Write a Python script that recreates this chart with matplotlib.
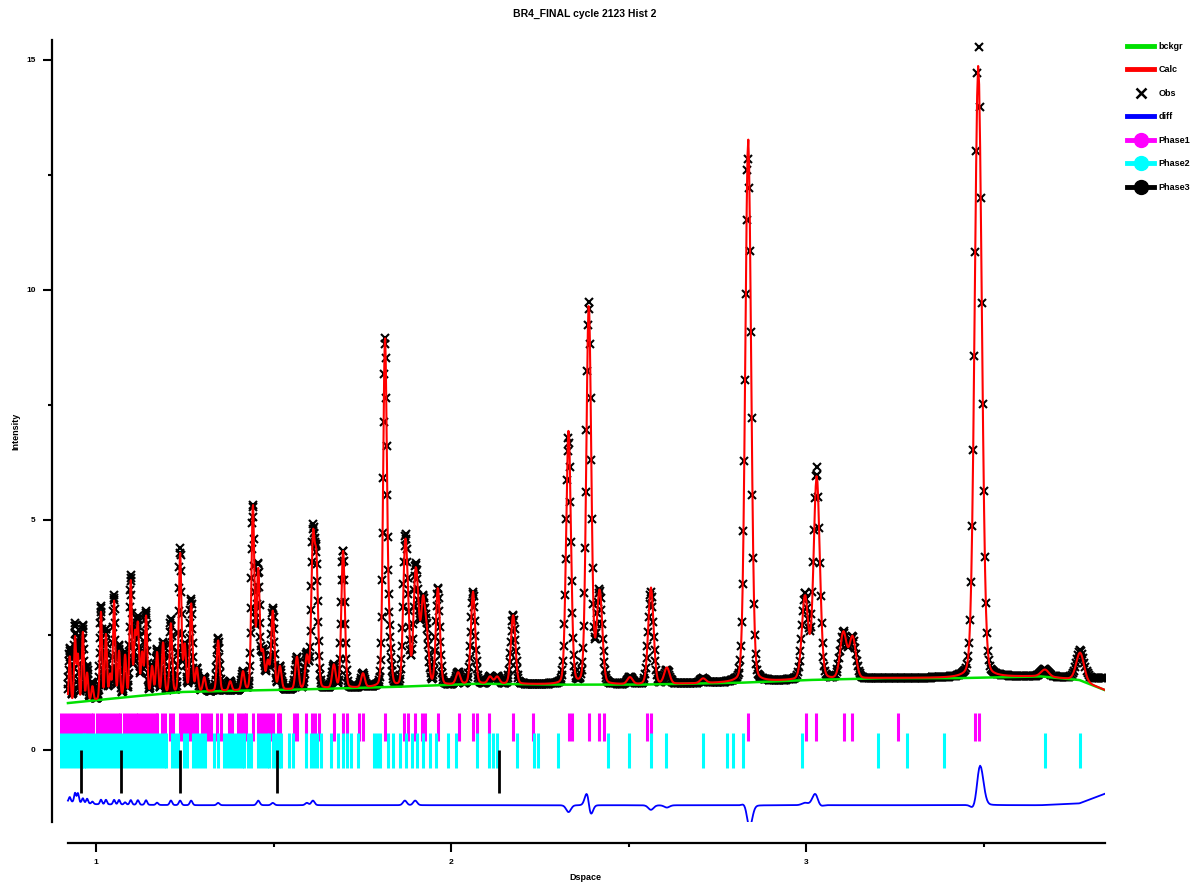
import numpy as np
import matplotlib
matplotlib.use("Agg")
import matplotlib.pyplot as plt
from matplotlib.lines import Line2D
from matplotlib.ticker import MultipleLocator

plt.rcParams['font.family'] = ['Liberation Sans', 'DejaVu Sans']
plt.rcParams['font.weight'] = 'bold'

title = "BR4_FINAL cycle 2123 Hist 2"
x_label = "Dspace"
y_label = "Intensity"
legend_labels = ["bckgr", "Calc", "Obs", "diff", "Phase1", "Phase2", "Phase3"]

# data range (d-spacing)
d_start, d_end = 0.921, 3.842
d_step_rel = 0.0008          # relative TOF step (delta d / d)
fwhm_rel = 0.0068            # peak FWHM / d

# background nodes (d, intensity)
bkg_d = [0.921, 1.000, 1.100, 1.240, 1.400, 1.550, 1.840, 2.070, 2.300,
         2.530, 2.810, 3.000, 3.210, 3.420, 3.660, 3.770, 3.842]
bkg_calc = [1.02, 1.08, 1.16, 1.26, 1.29, 1.31, 1.37, 1.44, 1.42,
            1.42, 1.46, 1.52, 1.56, 1.56, 1.60, 1.52, 1.30]
bkg_obs = [1.10, 1.10, 1.17, 1.26, 1.29, 1.31, 1.37, 1.44, 1.42,
           1.42, 1.46, 1.52, 1.56, 1.56, 1.60, 1.56, 1.55]

# peaks: position, calculated amplitude, observed amplitude
peak_d = [0.926, 0.941, 0.949, 0.963, 0.975, 0.990, 1.014, 1.028, 1.040, 1.051,
          1.065, 1.082, 1.098, 1.110, 1.118, 1.130, 1.141, 1.158, 1.172, 1.189,
          1.211, 1.237, 1.250, 1.268, 1.284, 1.305, 1.344, 1.378, 1.414, 1.442,
          1.457, 1.470, 1.484, 1.498, 1.518, 1.566, 1.594, 1.611, 1.621, 1.670,
          1.696, 1.752, 1.814, 1.826, 1.870, 1.878, 1.899, 1.907, 1.921, 1.932,
          1.963, 2.020, 2.062, 2.110, 2.130, 2.175, 2.331, 2.388, 2.413, 2.420,
          2.504, 2.563, 2.608, 2.710, 2.837, 2.997, 3.030, 3.105, 3.131, 3.485,
          3.673, 3.772]
calc_amp = [1.0, 1.4, 1.0, 1.5, 0.6, 0.3, 1.9, 1.4, 0.5, 2.1,
            1.0, 0.9, 2.5, 1.3, 1.5, 0.9, 1.7, 0.6, 0.9, 1.1,
            1.5, 3.0, 1.0, 1.9, 0.5, 0.3, 1.1, 0.2, 0.4, 4.0,
            2.6, 0.8, 0.6, 1.7, 0.5, 0.7, 0.7, 3.1, 2.6, 0.5,
            3.0, 0.3, 7.5, 1.0, 2.6, 1.4, 2.0, 1.2, 1.7, 1.0,
            2.1, 0.25, 2.0, 0.15, 0.15, 1.5, 5.5, 8.25, 0.6, 1.6,
            0.15, 2.1, 0.35, 0.1, 11.8, 1.8, 4.4, 1.0, 0.9, 13.3,
            0.15, 0.6]
obs_amp = [1.1, 1.6, 1.2, 1.6, 0.7, 0.35, 2.0, 1.5, 0.5, 2.2,
           1.1, 0.95, 2.6, 1.3, 1.6, 0.9, 1.8, 0.6, 0.95, 1.1,
           1.6, 3.1, 1.0, 2.0, 0.5, 0.3, 1.15, 0.2, 0.4, 4.0,
           2.7, 0.8, 0.6, 1.75, 0.5, 0.7, 0.75, 3.2, 2.6, 0.5,
           3.0, 0.3, 7.5, 1.0, 2.7, 1.4, 2.1, 1.2, 1.7, 1.0,
           2.1, 0.25, 2.0, 0.15, 0.15, 1.5, 5.35, 8.3, 0.6, 1.6,
           0.15, 2.0, 0.3, 0.1, 11.4, 1.85, 4.6, 1.0, 0.9, 14.0,
           0.15, 0.6]
obs_shift = {2.388: -0.0003, 2.837: -0.0002, 3.030: -0.0003, 3.485: 0.0004}
diff_offset = -1.2

# reflection tick positions
phase1_d = [0.9014, 0.9099, 0.9183, 0.9268, 0.9352, 0.9437, 0.9521, 0.9606, 0.9690, 0.9775,
            0.9859, 0.9915, 1.0028, 1.0113, 1.0197, 1.0282, 1.0366, 1.0451, 1.0535, 1.0620,
            1.0676, 1.0789, 1.0873, 1.0958, 1.1042, 1.1127, 1.1183, 1.1268, 1.1352, 1.1437,
            1.1521, 1.1606, 1.1690, 1.1718, 1.1859, 1.1944, 1.2085, 1.2169, 1.2366, 1.2451,
            1.2535, 1.2620, 1.2704, 1.2789, 1.2845, 1.2986, 1.3070, 1.3155, 1.3239, 1.3408,
            1.3521, 1.3746, 1.3831, 1.4000, 1.4085, 1.4169, 1.4225, 1.4423, 1.4563, 1.4648,
            1.4732, 1.4817, 1.4901, 1.4986, 1.5127, 1.5183, 1.5577, 1.5662, 1.5915, 1.6085,
            1.6169, 1.6282, 1.6704, 1.6958, 1.7070, 1.7408, 1.7521, 1.8141, 1.8676, 1.8789,
            1.8986, 1.9183, 1.9268, 1.9634, 2.0225, 2.0620, 2.0732, 2.1070, 2.1746, 2.2310,
            2.3324, 2.3408, 2.3887, 2.4169, 2.4310, 2.5521, 2.5634, 2.8366, 3.0000, 3.0282,
            3.1070, 3.1296, 3.2592, 3.4761, 3.4873]
phase2_d = [0.9014, 0.9099, 0.9183, 0.9268, 0.9352, 0.9437, 0.9521, 0.9606, 0.9662, 0.9718,
            0.9803, 0.9887, 0.9972, 1.0056, 1.0141, 1.0225, 1.0310, 1.0394, 1.0479, 1.0563,
            1.0648, 1.0732, 1.0817, 1.0901, 1.0986, 1.1070, 1.1155, 1.1239, 1.1324, 1.1408,
            1.1493, 1.1577, 1.1662, 1.1746, 1.1831, 1.1915, 1.1972, 1.2141, 1.2225, 1.2310,
            1.2479, 1.2563, 1.2732, 1.2817, 1.2901, 1.2986, 1.3070, 1.3324, 1.3437, 1.3606,
            1.3690, 1.3775, 1.3859, 1.3944, 1.4028, 1.4113, 1.4169, 1.4282, 1.4366, 1.4563,
            1.4648, 1.4732, 1.4817, 1.4873, 1.4986, 1.5070, 1.5155, 1.5211, 1.5437, 1.5549,
            1.5915, 1.6056, 1.6141, 1.6225, 1.6338, 1.6620, 1.6817, 1.6958, 1.7070, 1.7183,
            1.7380, 1.7831, 1.7915, 1.8000, 1.8225, 1.8366, 1.8563, 1.8732, 1.8901, 1.9042,
            1.9211, 1.9408, 1.9577, 1.9915, 2.0141, 2.0732, 2.1070, 2.1183, 2.1296, 2.1859,
            2.2338, 2.2451, 2.3014, 2.4423, 2.5014, 2.5634, 2.6056, 2.7099, 2.7775, 2.7944,
            2.8225, 2.9887, 3.2028, 3.2845, 3.3887, 3.6732, 3.7718]
phase3_d = [0.958, 1.070, 1.237, 1.510, 2.135]

phase1_span = (0.20, 0.80)
phase2_span = (-0.39, 0.37)
phase3_span = (-0.93, 0.00)

# ---------------------------------------------------------------
n_pts = int(np.log(d_end / d_start) / np.log1p(d_step_rel)) + 1
d = d_start * (1 + d_step_rel) ** np.arange(n_pts)


def profile(x, centres, amps, shifts=None):
    y = np.zeros_like(x)
    eta = 0.12
    for c, a in zip(centres, amps):
        cc = c + (shifts.get(c, 0.0) if shifts else 0.0)
        fw = fwhm_rel * c
        s = fw / 2.3548
        g = np.exp(-0.5 * ((x - cc) / s) ** 2)
        lz = 1.0 / (1.0 + ((x - cc) / (fw / 2)) ** 2)
        y += a * ((1 - eta) * g + eta * lz)
    return y


bk = np.interp(d, bkg_d, bkg_calc)
calc = bk + profile(d, peak_d, calc_amp)
obs = np.interp(d, bkg_d, bkg_obs) + profile(d, peak_d, obs_amp, obs_shift)
diff = obs - calc + diff_offset

W, H = 1202, 883
fig = plt.figure(figsize=(W / 100, H / 100), dpi=100)
ax = fig.add_axes([60 / W, 1 - 822 / H, (1105 - 60) / W, (822 - 40) / H])

ax.plot(d, obs, linestyle='none', marker='x', color='black', markersize=6,
        markeredgewidth=1.5, zorder=2)
ax.plot(d, bk, color='#00e000', lw=1.8, zorder=3)
ax.plot(d, calc, color='#ff0000', lw=1.5, zorder=4)
ax.plot(d, diff, color='#0000ff', lw=1.3, zorder=4)

ax.vlines(phase1_d, *phase1_span, color='#ff00ff', lw=2.2, zorder=2)
ax.vlines(phase2_d, *phase2_span, color='#00ffff', lw=2.2, zorder=3)
ax.vlines(phase3_d, *phase3_span, color='black', lw=2.0, zorder=4)

ax.set_xlim(0.8986, 3.842)
ax.set_ylim(-1.565, 15.43)

for s in ('top', 'right'):
    ax.spines[s].set_visible(False)
ax.spines['left'].set_position(('outward', 6))
ax.spines['bottom'].set_position(('outward', 15))
ax.spines['bottom'].set_bounds(d_start, d_end)
for s in ('left', 'bottom'):
    ax.spines[s].set_linewidth(1.6)

ax.xaxis.set_major_locator(MultipleLocator(1))
ax.xaxis.set_minor_locator(MultipleLocator(0.5))
ax.yaxis.set_major_locator(MultipleLocator(5))
ax.yaxis.set_minor_locator(MultipleLocator(2.5))
ax.tick_params(axis='both', which='major', length=6.5, width=1.5, labelsize=6, pad=5)
ax.tick_params(axis='both', which='minor', length=3.2, width=1.5)
for lab in ax.get_xticklabels() + ax.get_yticklabels():
    lab.set_fontweight('bold')

fig.text(585 / W, 1 - 14 / H, title, ha='center', va='center', fontsize=7.5, fontweight='bold')
fig.text(585 / W, 1 - 877 / H, x_label, ha='center', va='center', fontsize=6.5, fontweight='bold')
fig.text(16 / W, 1 - 431 / H, y_label, ha='center', va='center', rotation=90,
         fontsize=6.5, fontweight='bold')

handles = [
    Line2D([], [], color='#00e000', lw=3.5),
    Line2D([], [], color='#ff0000', lw=3.5),
    Line2D([], [], color='black', marker='x', linestyle='none', markersize=7, markeredgewidth=1.8),
    Line2D([], [], color='#0000ff', lw=3.5),
    Line2D([], [], color='#ff00ff', lw=3.5, marker='o', markersize=10),
    Line2D([], [], color='#00ffff', lw=3.5, marker='o', markersize=10),
    Line2D([], [], color='black', lw=3.5, marker='o', markersize=10),
]
leg = fig.legend(handles, legend_labels, loc='upper left', bbox_to_anchor=(1127 / W, 1 - 42 / H),
                 frameon=False, fontsize=6.5, handlelength=3.0, handletextpad=0.5,
                 labelspacing=1.6, borderpad=0, borderaxespad=0)
for t in leg.get_texts():
    t.set_fontweight('bold')

fig.savefig("out.png", dpi=100)
